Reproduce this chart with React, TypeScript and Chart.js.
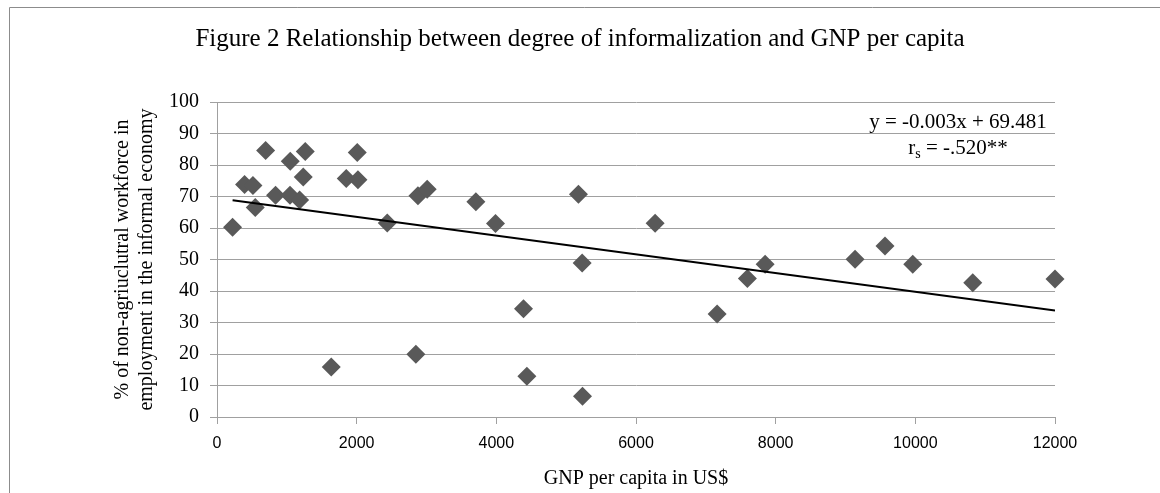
import React, { useEffect, useRef } from "react";
import { Chart, registerables } from "chart.js";

Chart.register(...registerables);

// GNP per capita (US$) for each country
const gnpPerCapita = [
  223, 395, 515, 548, 696, 839, 1049, 1045, 1183, 1264, 1235, 1851, 2008, 2018,
  2438, 2877, 3010, 3707, 3988, 1636, 2848, 4389, 4437, 5176, 6274, 5229, 7595,
  7849, 9137, 9566, 7162, 5234, 9963, 10822, 12000,
];

// % of non-agricultural workforce in informal employment
const informalShare = [
  60.2, 73.8, 73.5, 66.5, 84.6, 70.4, 81.2, 70.4, 68.9, 84.3, 76.2, 75.7, 84.0,
  75.3, 61.6, 70.2, 72.3, 68.3, 61.4, 15.9, 19.9, 34.4, 12.9, 70.7, 61.5, 48.9,
  44.0, 48.5, 50.1, 54.3, 32.7, 6.6, 48.5, 42.6, 43.8,
];

const trendIntercept = 69.481;
const trendSlope = -0.00297;

const chartTitle =
  "Figure 2 Relationship between degree of informalization and GNP per capita";
const yTitleLines = [
  "% of non-agriuclutral workforce in",
  "employment in the informal economy",
];
const xTitle = "GNP per capita in US$";
const equationLabel = "y = -0.003x + 69.481";
const corrMain = "r";
const corrSub = "s";
const corrRest = " = -.520**";

const SERIF = "'Liberation Serif', 'Times New Roman', serif";
const SANS = "'Liberation Sans', Arial, sans-serif";

const textPlugin = {
  id: "figureTexts",
  beforeDraw(chart: any) {
    const ctx = chart.ctx;
    ctx.save();
    ctx.fillStyle = "#ffffff";
    ctx.fillRect(0, 0, chart.width, chart.height);
    ctx.strokeStyle = "#8c8c8c";
    ctx.lineWidth = 1;
    ctx.beginPath();
    ctx.moveTo(9.5, chart.height);
    ctx.lineTo(9.5, 7.5);
    ctx.lineTo(chart.width, 7.5);
    ctx.stroke();
    ctx.restore();
  },
  afterDraw(chart: any) {
    const { ctx, chartArea } = chart;
    ctx.save();
    ctx.fillStyle = "#000000";
    ctx.textBaseline = "alphabetic";
    ctx.textAlign = "center";

    // main title
    ctx.font = `25px ${SERIF}`;
    ctx.fillText(chartTitle, 580, 46);

    // x axis title
    ctx.font = `20px ${SERIF}`;
    ctx.fillText(xTitle, (chartArea.left + chartArea.right) / 2, 484);

    // y axis title (two lines, rotated)
    const cy = (chartArea.top + chartArea.bottom) / 2;
    const baselines = [128, 152];
    yTitleLines.forEach((line, i) => {
      ctx.save();
      ctx.translate(baselines[i], cy);
      ctx.rotate(-Math.PI / 2);
      ctx.fillText(line, 0, 0);
      ctx.restore();
    });

    // trend equation
    ctx.font = `21px ${SERIF}`;
    ctx.fillText(equationLabel, 958, 128);

    // correlation with subscript
    ctx.textAlign = "left";
    ctx.font = `21px ${SERIF}`;
    const wMain = ctx.measureText(corrMain).width;
    const wRest = ctx.measureText(corrRest).width;
    ctx.font = `14px ${SERIF}`;
    const wSub = ctx.measureText(corrSub).width;
    let x = 958 - (wMain + wSub + wRest) / 2;
    ctx.font = `21px ${SERIF}`;
    ctx.fillText(corrMain, x, 154);
    x += wMain;
    ctx.font = `14px ${SERIF}`;
    ctx.fillText(corrSub, x, 158);
    x += wSub;
    ctx.font = `21px ${SERIF}`;
    ctx.fillText(corrRest, x, 154);
    ctx.restore();
  },
};

export default function App() {
  const canvasRef = useRef<HTMLCanvasElement | null>(null);

  useEffect(() => {
    if (!canvasRef.current) return;
    const points = gnpPerCapita.map((g, i) => ({ x: g, y: informalShare[i] }));
    const minX = Math.min(...gnpPerCapita);
    const maxX = Math.max(...gnpPerCapita);
    const trend = [
      { x: minX, y: trendIntercept + trendSlope * minX },
      { x: maxX, y: trendIntercept + trendSlope * maxX },
    ];

    const chart = new Chart(canvasRef.current, {
      type: "scatter",
      data: {
        datasets: [
          {
            label: "Countries",
            data: points,
            pointStyle: "rectRot",
            pointRadius: 9.5,
            pointHoverRadius: 9.5,
            backgroundColor: "#595959",
            borderColor: "#595959",
            borderWidth: 0,
            clip: false,
            order: 1,
          } as any,
          {
            label: "Linear trend",
            data: trend,
            showLine: true,
            borderColor: "#000000",
            borderWidth: 2,
            pointRadius: 0,
            fill: false,
            order: 0,
          } as any,
        ],
      },
      options: {
        animation: false,
        responsive: false,
        devicePixelRatio: 1,
        events: [],
        layout: { padding: { left: 0, top: 102, right: 105, bottom: 0 } },
        plugins: {
          legend: { display: false },
          tooltip: { enabled: false },
          title: { display: false },
        },
        scales: {
          x: {
            type: "linear",
            min: 0,
            max: 12000,
            afterFit: (scale: any) => {
              scale.height = 76;
            },
            ticks: {
              stepSize: 2000,
              padding: 10,
              color: "#000000",
              font: { family: SANS, size: 16 },
              callback: (v: any) => String(v),
            },
            grid: {
              drawOnChartArea: false,
              drawTicks: true,
              tickLength: 7,
              color: "#a0a0a0",
            },
            border: { display: true, color: "#a0a0a0", width: 1 },
          },
          y: {
            type: "linear",
            min: 0,
            max: 100,
            afterFit: (scale: any) => {
              scale.width = 217;
            },
            ticks: {
              stepSize: 10,
              padding: 11,
              color: "#000000",
              font: { family: SERIF, size: 20 },
              callback: (v: any) => String(v),
            },
            grid: {
              drawTicks: true,
              tickLength: 7,
              color: "#a0a0a0",
            },
            border: { display: true, color: "#a0a0a0", width: 1 },
          },
        },
      },
      plugins: [textPlugin],
    });
    return () => chart.destroy();
  }, []);

  return (
    <div
      style={{
        position: "fixed",
        left: 0,
        top: 0,
        width: 1160,
        height: 493,
        overflow: "hidden",
        background: "#ffffff",
      }}
    >
      <canvas
        ref={canvasRef}
        width={1160}
        height={493}
        style={{ display: "block", width: 1160, height: 493 }}
      />
    </div>
  );
}
